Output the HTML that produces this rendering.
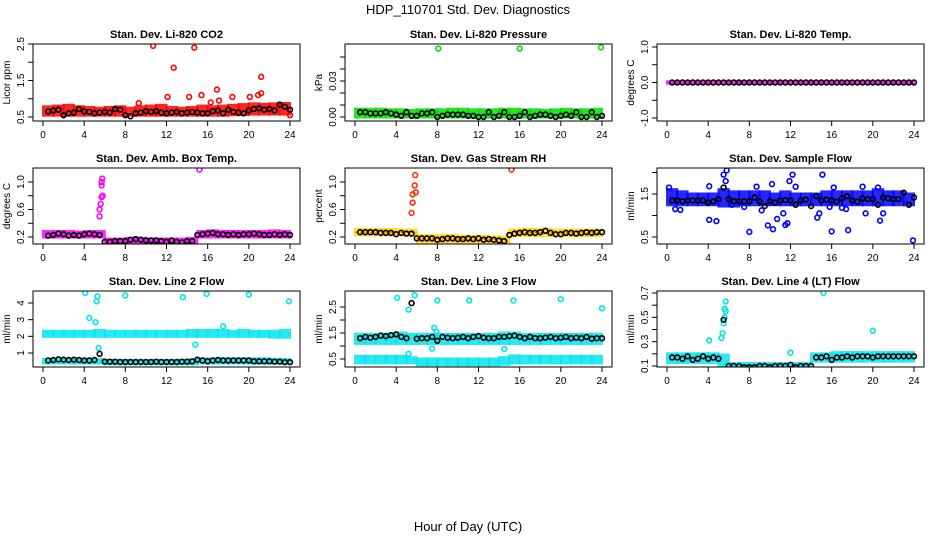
<!DOCTYPE html>
<html><head><meta charset="utf-8"><style>
html,body{margin:0;padding:0;background:#fff;}
svg{display:block;font-family:"Liberation Sans",sans-serif;}
</style></head><body>
<svg id="chart" width="936" height="540" viewBox="0 0 936 540" xmlns="http://www.w3.org/2000/svg">
<rect x="0" y="0" width="936" height="540" fill="#fff"/>
<text x="468" y="14" font-size="13" text-anchor="middle">HDP_110701  Std. Dev. Diagnostics</text>
<text x="468" y="531" font-size="13" text-anchor="middle">Hour of Day (UTC)</text>
</svg>
<script>
// ---- data ----
const xTicks = [0,4,8,12,16,20,24];
const blackHours = [0.5,1,1.5,2,2.5,3,3.5,4,4.5,5,5.5,6,6.5,7,7.5,8,8.5,9,9.5,10,10.5,11,11.5,12,12.5,13,13.5,14,14.5,15,15.5,16,16.5,17,17.5,18,18.5,19,19.5,20,20.5,21,21.5,22,22.5,23,23.5,24];

const co2BandLo = [0.55,0.55,0.55,0.55,0.55,0.55,0.55,0.55,0.55,0.55,0.55,0.55,0.55,0.55,0.55,0.55,0.55,0.55,0.56,0.57,0.58,0.58,0.58,0.58];
const co2BandHi = [0.78,0.8,0.82,0.78,0.76,0.74,0.76,0.78,0.74,0.78,0.8,0.82,0.76,0.74,0.76,0.8,0.78,0.8,0.82,0.84,0.86,0.85,0.86,0.87];
const co2Black = [0.65,0.68,0.7,0.55,0.6,0.62,0.72,0.65,0.64,0.6,0.62,0.64,0.62,0.72,0.7,0.55,0.52,0.6,0.62,0.66,0.64,0.66,0.62,0.6,0.62,0.64,0.6,0.62,0.64,0.62,0.6,0.6,0.66,0.68,0.6,0.7,0.64,0.62,0.6,0.68,0.72,0.74,0.7,0.72,0.68,0.84,0.78,0.7];
const co2OutX = [10.7,14.7,12.7,16.9,21.2,12.1,14.2,15.4,18.4,20.1,20.9,21.2,17.1,16.3,9.3,24];
const co2OutY = [2.45,2.4,1.85,1.25,1.6,1.05,1.05,1.1,1.05,1.05,1.1,1.15,0.95,0.9,0.88,0.55];

const presBandLo = [0,0,0,0,0,0,0,0,0,0,0,0,0,0,0,0,0,0,0,0,0,0,0,0];
const presBandHi = [0.0065,0.0065,0.0065,0.006,0.006,0.0055,0.006,0.006,0.006,0.0065,0.0065,0.006,0.006,0.006,0.0065,0.0065,0.006,0.006,0.0055,0.006,0.0065,0.006,0.006,0.0065];
const presBlack = [0.004,0.004,0.003,0.003,0.003,0.004,0.003,0.002,0.001,0.004,0.001,0.001,0.003,0.003,0.004,0.000,0.001,0.002,0.002,0.002,0.002,0.001,0.001,0.000,0.000,0.004,0.000,0.001,0.004,0.000,0.000,0.001,0.004,0.000,0.001,0.002,0.002,0.001,0.000,0.001,0.002,0.001,0.004,0.000,0.000,0.004,0.000,0.001];
const presOutX = [8.1,16,23.9];
const presOutY = [0.057,0.057,0.058];

const tempBandLo = [-0.02,-0.02,-0.02,-0.02,-0.02,-0.02,-0.02,-0.02,-0.02,-0.02,-0.02,-0.02,-0.02,-0.02,-0.02,-0.02,-0.02,-0.02,-0.02,-0.02,-0.02,-0.02,-0.02,-0.02];
const tempBandHi = [0.02,0.02,0.02,0.02,0.02,0.02,0.02,0.02,0.02,0.02,0.02,0.02,0.02,0.02,0.02,0.02,0.02,0.02,0.02,0.02,0.02,0.02,0.02,0.02];
const tempBlack = [0,0,0,0,0,0,0,0,0,0,0,0,0,0,0,0,0,0,0,0,0,0,0,0,0,0,0,0,0,0,0,0,0,0,0,0,0,0,0,0,0,0,0,0,0,0,0,0];
const tempOutX = [];
const tempOutY = [];

const ambBandLo = [0.2,0.2,0.2,0.2,0.2,0.2,0.1,0.1,0.1,0.1,0.1,0.1,0.1,0.1,0.1,0.2,0.2,0.2,0.2,0.2,0.2,0.2,0.2,0.2];
const ambBandHi = [0.28,0.28,0.28,0.27,0.28,0.28,0.17,0.17,0.18,0.18,0.17,0.17,0.17,0.17,0.18,0.28,0.29,0.28,0.28,0.28,0.28,0.28,0.29,0.28];
const ambBlack = [0.22,0.23,0.25,0.24,0.22,0.23,0.22,0.24,0.25,0.24,0.23,0.13,0.13,0.14,0.14,0.14,0.16,0.17,0.16,0.15,0.15,0.15,0.14,0.13,0.15,0.13,0.12,0.14,0.14,0.23,0.24,0.25,0.26,0.24,0.24,0.23,0.24,0.23,0.24,0.24,0.25,0.24,0.23,0.23,0.24,0.23,0.24,0.23];
const ambOutX = [5.5,5.5,5.6,5.7,5.7,5.75,5.8,15.2,5.7];
const ambOutY = [0.5,0.6,0.68,0.95,1.0,1.05,0.8,1.18,0.78];

const rhBandLo = [0.23,0.23,0.23,0.23,0.23,0.23,0.13,0.13,0.13,0.13,0.13,0.13,0.13,0.13,0.12,0.22,0.22,0.22,0.22,0.22,0.22,0.22,0.22,0.22];
const rhBandHi = [0.31,0.31,0.31,0.31,0.3,0.3,0.22,0.22,0.22,0.22,0.21,0.21,0.21,0.2,0.2,0.3,0.31,0.31,0.31,0.3,0.3,0.3,0.3,0.3];
const rhBlack = [0.27,0.27,0.27,0.27,0.26,0.26,0.26,0.24,0.26,0.25,0.25,0.18,0.18,0.18,0.18,0.16,0.17,0.18,0.18,0.17,0.17,0.18,0.17,0.18,0.16,0.17,0.16,0.15,0.14,0.23,0.25,0.26,0.27,0.26,0.26,0.27,0.29,0.26,0.24,0.24,0.26,0.26,0.25,0.26,0.27,0.26,0.27,0.27];
const rhOutX = [5.5,5.6,5.8,5.85,5.9,15.2,5.6];
const rhOutY = [0.55,0.7,0.95,1.1,0.85,1.18,0.82];

const flowBandLo = [1.25,1.25,1.25,1.25,1.25,1.22,1.22,1.25,1.25,1.25,1.25,1.25,1.25,1.25,1.25,1.25,1.25,1.25,1.25,1.25,1.25,1.25,1.25,1.25];
const flowBandHi = [1.6,1.55,1.5,1.5,1.5,1.6,1.55,1.55,1.55,1.55,1.5,1.55,1.5,1.5,1.5,1.55,1.55,1.55,1.55,1.55,1.6,1.55,1.55,1.5];
const flowBlack = [1.35,1.35,1.33,1.35,1.35,1.35,1.35,1.3,1.33,1.38,1.65,1.38,1.33,1.33,1.33,1.33,1.42,1.33,1.22,1.33,1.3,1.35,1.36,1.35,1.25,1.35,1.37,1.22,1.45,1.35,1.37,1.35,1.32,1.4,1.45,1.35,1.32,1.4,1.38,1.38,1.25,1.42,1.4,1.38,1.38,1.53,1.25,1.42];
const flowOutX = [0.2,0.8,1.3,4.1,4.1,4.8,5.5,5.8,5.7,6.3,7.5,8,8.7,9.2,9.8,10.3,10.2,10.7,11.3,11.5,11.7,12.2,11.9,12.5,14.6,14.8,15.1,15.8,16,16.2,17,17.6,17.4,19,19.3,20.5,20.7,21,23.9];
const flowOutY = [1.65,1.15,1.13,1.68,0.9,0.87,1.95,2.05,1.8,1.25,1.2,0.62,1.67,1.12,0.77,0.68,1.73,0.92,1.05,0.78,0.82,1.95,1.8,1.67,0.95,1.05,1.95,1.2,0.63,1.65,1.18,0.66,1.15,1.67,1.05,1.65,0.88,1.05,0.42];

const l2BandLo = [2.0,2.0,2.0,2.0,2.0,2.0,2.0,2.0,2.0,2.0,2.0,2.0,2.0,2.0,2.0,2.0,2.0,2.0,2.0,2.0,2.0,2.0,1.95,1.95];
const l2BandHi = [2.3,2.3,2.3,2.3,2.3,2.35,2.3,2.3,2.3,2.3,2.3,2.3,2.3,2.3,2.35,2.35,2.35,2.35,2.3,2.35,2.3,2.3,2.3,2.35];
const l2Band2Lo = [0.4,0.4,0.4,0.4,0.4,0.4,0.35,0.35,0.35,0.35,0.35,0.35,0.35,0.35,0.35,0.4,0.4,0.4,0.4,0.4,0.4,0.4,0.4,0.4];
const l2Band2Hi = [0.62,0.62,0.62,0.62,0.62,0.6,0.55,0.55,0.55,0.55,0.55,0.55,0.55,0.55,0.58,0.65,0.65,0.65,0.65,0.65,0.65,0.65,0.62,0.62];
const l2Black = [0.55,0.58,0.62,0.6,0.58,0.6,0.58,0.55,0.55,0.58,0.95,0.48,0.48,0.48,0.46,0.46,0.46,0.46,0.46,0.46,0.46,0.48,0.46,0.46,0.46,0.46,0.48,0.48,0.5,0.6,0.55,0.5,0.55,0.58,0.55,0.55,0.55,0.55,0.55,0.55,0.5,0.5,0.5,0.5,0.48,0.48,0.45,0.45];
const l2OutX = [4.1,4.5,5.1,5.3,5.2,5.4,8,13.6,15.9,14.8,17.5,20,23.9];
const l2OutY = [4.6,3.1,2.85,4.4,4.1,1.3,4.45,4.35,4.55,1.5,2.6,4.5,4.1];

const l3BandLo = [1.1,1.1,1.1,1.1,1.1,1.1,1.1,1.1,1.1,1.1,1.1,1.1,1.1,1.1,1.1,1.1,1.1,1.1,1.1,1.1,1.1,1.1,1.1,1.1];
const l3BandHi = [1.45,1.45,1.45,1.45,1.5,1.45,1.45,1.45,1.45,1.45,1.45,1.45,1.45,1.45,1.5,1.5,1.45,1.45,1.45,1.45,1.45,1.45,1.45,1.45];
const l3Band2Lo = [0.35,0.35,0.35,0.35,0.35,0.35,0.28,0.28,0.28,0.28,0.28,0.28,0.28,0.28,0.3,0.35,0.35,0.35,0.35,0.35,0.35,0.35,0.35,0.35];
const l3Band2Hi = [0.6,0.6,0.6,0.6,0.6,0.55,0.5,0.5,0.5,0.5,0.5,0.5,0.5,0.5,0.55,0.62,0.6,0.6,0.6,0.6,0.6,0.6,0.6,0.6];
const l3Black = [1.3,1.35,1.32,1.35,1.4,1.38,1.42,1.45,1.35,1.3,2.65,1.28,1.3,1.3,1.35,1.2,1.35,1.32,1.3,1.32,1.35,1.3,1.35,1.38,1.32,1.3,1.3,1.35,1.35,1.38,1.4,1.35,1.3,1.35,1.3,1.3,1.32,1.35,1.3,1.32,1.35,1.3,1.32,1.3,1.35,1.28,1.3,1.3];
const l3OutX = [4.1,5.2,5.5,5.6,5.8,5.2,8,7.7,7.9,7.5,11.1,14.8,15.4,14.5,20,24];
const l3OutY = [2.85,2.4,3.35,3.2,2.95,0.7,2.75,1.7,1.55,0.9,2.75,3.3,2.75,0.88,2.8,2.45];

const l4BandLo = [0.13,0.13,0.13,0.13,0.13,0.1,0.08,0.08,0.08,0.08,0.08,0.08,0.08,0.08,0.14,0.14,0.14,0.14,0.14,0.14,0.14,0.14,0.14,0.14];
const l4BandHi = [0.2,0.2,0.2,0.2,0.2,0.19,0.12,0.12,0.12,0.12,0.12,0.12,0.12,0.12,0.2,0.2,0.21,0.21,0.21,0.21,0.21,0.21,0.21,0.21];
const l4Black = [0.17,0.17,0.16,0.18,0.15,0.16,0.18,0.16,0.17,0.16,0.48,0.1,0.1,0.1,0.09,0.09,0.09,0.1,0.1,0.09,0.1,0.1,0.1,0.11,0.09,0.1,0.1,0.1,0.17,0.17,0.18,0.15,0.17,0.17,0.18,0.17,0.18,0.18,0.18,0.17,0.18,0.18,0.18,0.18,0.18,0.18,0.18,0.18];
const l4OutX = [4.1,5.3,5.4,5.5,5.6,5.7,5.7,5.6,12,15.2,20];
const l4OutY = [0.31,0.33,0.37,0.45,0.5,0.55,0.63,0.57,0.21,0.7,0.39];

// ---- panel layout ----
const NS = "http://www.w3.org/2000/svg";
const svg = document.getElementById('chart');
function mk(tag, attrs, parent){ const e=document.createElementNS(NS,tag); for(const k in attrs) e.setAttribute(k,attrs[k]); (parent||svg).appendChild(e); return e; }

const panels = [
 {key:'co2', title:'Stan. Dev. Li-820 CO2', ylab:'Licor ppm', col:0,row:0, v0:0.5,p0:117, v1:2.5,p1:44, ticks:[0.5,1,1.5,2,2.5], labels:['0.5','1.5','2.5'], color:'#ff0000', bands:[[co2BandLo,co2BandHi]], black:co2Black, ox:co2OutX, oy:co2OutY},
 {key:'pressure', title:'Stan. Dev. Li-820 Pressure', ylab:'kPa', col:1,row:0, v0:0,p0:117, v1:0.03,p1:81, ticks:[0,0.01,0.02,0.03,0.04,0.05], labels:['0.00','0.03'], color:'#00e000', bands:[[presBandLo,presBandHi]], black:presBlack, ox:presOutX, oy:presOutY},
 {key:'temp', title:'Stan. Dev. Li-820 Temp.', ylab:'degrees C', col:2,row:0, v0:-1,p0:118, v1:1,p1:47, ticks:[-1,-0.5,0,0.5,1], labels:['-1.0','0.0','1.0'], color:'#ff00ff', bands:[[tempBandLo,tempBandHi]], black:tempBlack, ox:tempOutX, oy:tempOutY},
 {key:'ambbox', title:'Stan. Dev. Amb. Box Temp.', ylab:'degrees C', col:0,row:1, v0:0.2,p0:237, v1:1.0,p1:182, ticks:[0.2,0.4,0.6,0.8,1.0], labels:['0.2','0.6','1.0'], color:'#ff00ff', bands:[[ambBandLo,ambBandHi]], black:ambBlack, ox:ambOutX, oy:ambOutY},
 {key:'rh', title:'Stan. Dev. Gas Stream RH', ylab:'percent', col:1,row:1, v0:0.2,p0:237, v1:1.0,p1:182, ticks:[0.2,0.4,0.6,0.8,1.0], labels:['0.2','0.6','1.0'], color:'#ffd800', pcolor:'#ff3000', bands:[[rhBandLo,rhBandHi]], black:rhBlack, ox:rhOutX, oy:rhOutY},
 {key:'sampleflow', title:'Stan. Dev. Sample Flow', ylab:'ml/min', col:2,row:1, v0:0.5,p0:237, v1:1.5,p1:194, ticks:[0.5,1,1.5,2], labels:['0.5','1.5'], color:'#0000ff', bands:[[flowBandLo,flowBandHi]], black:flowBlack, ox:flowOutX, oy:flowOutY},
 {key:'line2', title:'Stan. Dev. Line 2 Flow', ylab:'ml/min', col:0,row:2, v0:1,p0:353, v1:4,p1:303, ticks:[1,2,3,4], labels:['1','2','3','4'], color:'#00e5ee', bands:[[l2BandLo,l2BandHi],[l2Band2Lo,l2Band2Hi]], black:l2Black, ox:l2OutX, oy:l2OutY},
 {key:'line3', title:'Stan. Dev. Line 3 Flow', ylab:'ml/min', col:1,row:2, v0:0.5,p0:359, v1:2.5,p1:307, ticks:[0.5,1,1.5,2,2.5], labels:['0.5','1.5','2.5'], color:'#00e5ee', bands:[[l3BandLo,l3BandHi],[l3Band2Lo,l3Band2Hi]], black:l3Black, ox:l3OutX, oy:l3OutY},
 {key:'line4', title:'Stan. Dev. Line 4 (LT) Flow', ylab:'ml/min', col:2,row:2, v0:0.1,p0:366, v1:0.7,p1:293, ticks:[0.1,0.2,0.3,0.4,0.5,0.6,0.7], labels:['0.1','0.3','0.5','0.7'], color:'#00e5ee', bands:[[l4BandLo,l4BandHi]], black:l4Black, ox:l4OutX, oy:l4OutY}
];

const rowTop=[44,168,291], rowBot=[121,244,367];
panels.forEach(p=>{
  const x0 = 43 + p.col*312, xr = 247/24;
  const X = h => x0 + h*xr;
  const Y = v => p.p0 + (v - p.v0)*(p.p1 - p.p0)/(p.v1 - p.v0);
  const left = x0-10, right = x0+257, top=rowTop[p.row], bot=rowBot[p.row];
  const g = mk('g',{});
  
  
  const t = mk('text',{x:(left+right)/2, y:top-6, 'font-size':11, 'font-weight':'bold','text-anchor':'middle'}, g);
  t.textContent = p.title;
  
  
  const clip = 'clip-'+p.key;
  const cp = mk('clipPath',{id:clip}, g); mk('rect',{x:left,y:top,width:right-left,height:bot-top},cp);
  const marks = mk('g',{'clip-path':'url(#'+clip+')'}, g);
  const pc = p.pcolor || p.color;
  p.bands.forEach((b,bi)=>{
    b[0].forEach((lo,i)=>{
      const hi=b[1][i];
      const r = mk('rect',{x:X(i)-1, y:Y(hi)-1.5, width:xr+2, height:Math.max(1,Y(lo)-Y(hi))+3, fill:p.color, 'fill-opacity':0.85}, marks);
      
      
      if(p.pcolor){ mk('line',{x1:X(i),x2:X(i)+xr,y1:(Y(lo)+Y(hi))/2,y2:(Y(lo)+Y(hi))/2,stroke:p.pcolor,'stroke-width':1,'stroke-dasharray':'2 3'},marks); }
    });
  });
  p.ox.forEach((h,i)=>{
    const c = mk('circle',{cx:X(h), cy:Y(p.oy[i]), r:2.4, fill:'none', stroke:pc, 'stroke-width':1.6}, marks);
    
    
  });
  p.black.forEach((v,i)=>{
    const c = mk('circle',{cx:X(blackHours[i]), cy:Y(v), r:2.4, fill:'none', stroke:'#000', 'stroke-width':1.6}, marks);
    
    
  });
  const bx = mk('rect',{x:left,y:top,width:right-left,height:bot-top,fill:'none',stroke:'#000','stroke-width':1}, g);
  
  
  mk('line',{x1:X(0),x2:X(24),y1:bot,y2:bot,stroke:'#000'},g);
  xTicks.forEach(h=>{
    mk('line',{x1:X(h),x2:X(h),y1:bot,y2:bot+5,stroke:'#000'},g);
    const tl = mk('text',{x:X(h),y:bot+17,'font-size':10,'text-anchor':'middle'},g);
    tl.textContent = h;
    
    
  });
  mk('line',{x1:left,x2:left,y1:Y(p.ticks[0]),y2:Y(p.ticks[p.ticks.length-1]),stroke:'#000'},g);
  p.ticks.forEach(v=>{ mk('line',{x1:left-5,x2:left,y1:Y(v),y2:Y(v),stroke:'#000'},g); });
  p.labels.forEach(s=>{
    const yy = Y(parseFloat(s));
    const tl = mk('text',{x:left-9,y:yy,'font-size':10,'text-anchor':'middle',transform:'rotate(-90 '+(left-9)+' '+yy+')'},g);
    tl.textContent = s;
    
    
  });
  const ym=(top+bot)/2;
  const yt = mk('text',{x:left-23,y:ym,'font-size':10,'text-anchor':'middle',transform:'rotate(-90 '+(left-23)+' '+ym+')'},g);
  yt.textContent = p.ylab;
  
  
});
</script>
</body></html>
